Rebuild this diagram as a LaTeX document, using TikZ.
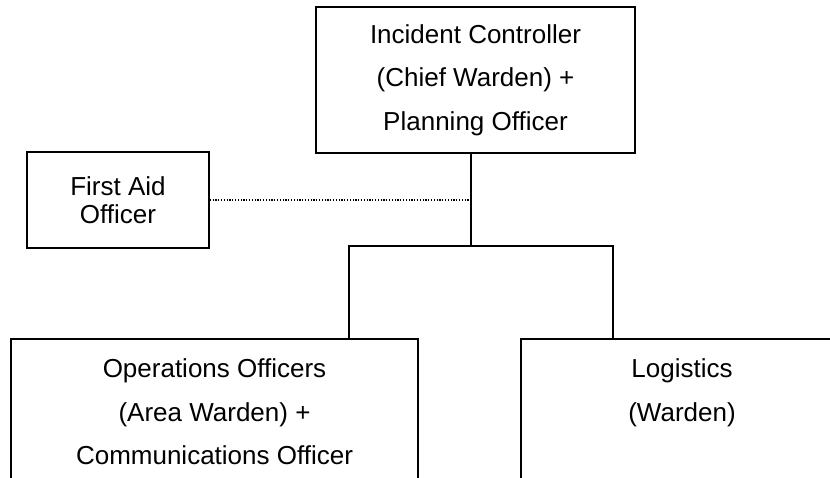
\documentclass[tikz,border=0pt]{standalone}
\usepackage{fontspec}
\setmainfont{Liberation Sans}
\begin{document}
\begin{tikzpicture}[x=1pt,y=-1pt,
  box/.style={draw,line width=1.5pt,align=center,inner sep=0pt,font=\fontsize{26}{43.5}\selectfont},
  link/.style={line width=1.5pt},
  aidlink/.style={line width=1.2pt,dash pattern=on 1.2pt off 1.6pt}]
\clip (0,0) rectangle (830,477);
\node (IC) [box,minimum width=319pt,minimum height=146pt] at (475.5,80) {Incident Controller\\(Chief Warden) +\\Planning Officer};
\node (FA) [box,minimum width=182pt,minimum height=96pt,font=\fontsize{26}{28.5}\selectfont] at (118,200) {First Aid\\Officer};
\node (OPS) [box,minimum width=407pt,minimum height=146pt] at (214.5,412) {Operations Officers\\(Area Warden) +\\Communications Officer};
\node (LOG) [box,minimum width=322pt,minimum height=146pt] at (682,412) {Logistics\\(Warden)\\\mbox{}};
\coordinate (HUB) at (471,246);
\coordinate (L) at (349,246);
\coordinate (R) at (613,246);
\draw [link] (IC.south -| HUB) -- (HUB);
\draw [link] (L |- OPS.north) -- (L) -- (R) -- (R |- LOG.north);
\draw [aidlink] (FA.east) -- (FA.east -| HUB);
\end{tikzpicture}
\end{document}
